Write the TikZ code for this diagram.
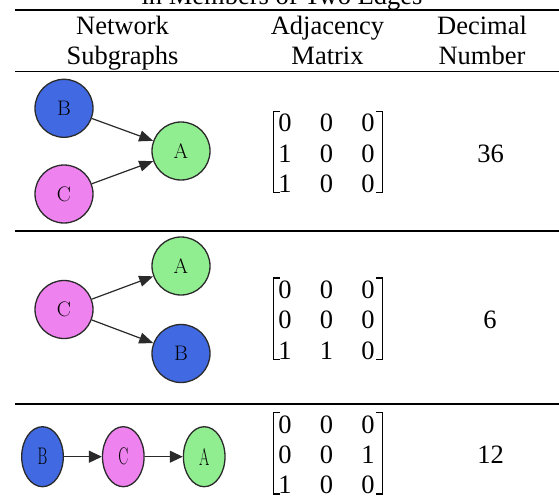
\documentclass[tikz,border=0pt]{standalone}
\usepackage{fontspec}
\usepackage{graphicx}
\newfontfamily\tnr{Liberation Serif}
\usetikzlibrary{arrows.meta,shapes.geometric}
\definecolor{nblue}{HTML}{4169E1}
\definecolor{nviolet}{HTML}{EE82EE}
\definecolor{ngreen}{HTML}{90EE90}
\definecolor{nedge}{HTML}{2A2A2A}
\newcommand\matrowx[5]{%
  \node[txt] (#1a) at (285,#2) {#3};
  \node[txt] (#1b) at (326.5,#2) {#4};
  \node[txt] (#1c) at (368,#2) {#5};}
\newcommand\bracketsx[2]{%
  \draw[brk] (280,#1) -- (273.5,#1) -- (273.5,#2) -- (280,#2);
  \draw[brk] (376,#1) -- (382.5,#1) -- (382.5,#2) -- (376,#2);}
\tikzset{
  txt/.style={font=\tnr\fontsize{26.5}{26.5}\selectfont, anchor=base, inner sep=0pt},
  rulex/.style={line width=1.6pt, black},
  thinrule/.style={line width=1.3pt, black},
  brk/.style={line width=1.4pt, black, line join=miter},
  gnode/.style={circle, draw=nedge, line width=1.3pt, minimum size=58pt, inner sep=0pt,
    font=\fontsize{21}{21}\selectfont},
  enode/.style={ellipse, draw=nedge, line width=1.3pt, minimum width=41.6pt, minimum height=60pt,
    inner sep=0pt},
  arr/.style={-{Triangle[length=14pt,width=11pt]}, line width=1.2pt, draw=nedge, fill=nedge},
}
\begin{document}
\begin{tikzpicture}[x=1pt,y=-1pt]
\useasboundingbox (0,0) rectangle (559,500);
\clip (0,0) rectangle (559,500);
% title (clipped at top, as in the reference)
\node[txt] (title) at (282,4.5) {in Members of Two Edges};
% rules
\draw[rulex] (15,10) -- (559,10);
\draw[thinrule] (15,71.5) -- (559,71.5);
\draw[rulex] (15,71.5) -- (28,71.5);
\draw[rulex] (217,71.5) -- (559,71.5);
\draw[thinrule] (15,231) -- (559,231);
\draw[rulex] (15,231) -- (28,231);
\draw[rulex] (217,231) -- (559,231);
\draw[rulex] (15,404) -- (559,404);
% header
\node[txt] (h1a) at (122.5,34.5) {Network};
\node[txt] (h1b) at (122.5,65) {Subgraphs};
\node[txt] (h2a) at (327.5,34.5) {Adjacency};
\node[txt] (h2b) at (327.5,65) {Matrix};
\node[txt] (h3a) at (482,34.5) {Decimal};
\node[txt] (h3b) at (482,65) {Number};
% row 1 graph
\node[gnode, fill=nblue] (B1) at (64,108.3) {B};
\node[gnode, fill=nviolet] (C1) at (64,194) {C};
\node[gnode, fill=ngreen] (A1) at (181,151) {A};
\draw[arr] (B1) -- (A1);
\draw[arr] (C1) -- (A1);
% row 2 graph
\node[gnode, fill=nviolet] (C2) at (64,309.5) {C};
\node[gnode, fill=ngreen] (A2) at (181,266) {A};
\node[gnode, fill=nblue] (B2) at (181,353.5) {B};
\draw[arr] (C2) -- (A2);
\draw[arr] (C2) -- (B2);
% row 3 graph
\node[enode, fill=nblue] (B3) at (42.5,456.7) {\scalebox{0.62}[1]{\fontsize{24}{24}\selectfont B}};
\node[enode, fill=nviolet] (C3) at (123.3,456.7) {\scalebox{0.62}[1]{\fontsize{24}{24}\selectfont C}};
\node[enode, fill=ngreen] (A3) at (204.2,456.7) {\scalebox{0.62}[1]{\fontsize{24}{24}\selectfont A}};
\draw[arr, -{Triangle[length=13pt,width=12pt]}] (B3) -- (C3);
\draw[arr, -{Triangle[length=13pt,width=12pt]}] (C3) -- (A3);
% matrices
\bracketsx{111.7}{192.5}
\matrowx{ma}{131.7}{0}{0}{0}
\matrowx{mb}{162.2}{1}{0}{0}
\matrowx{mc}{192.7}{1}{0}{0}
\bracketsx{278}{359.5}
\matrowx{md}{298}{0}{0}{0}
\matrowx{me}{328.5}{0}{0}{0}
\matrowx{mf}{359}{1}{1}{0}
\bracketsx{412.7}{494}
\matrowx{mg}{433.3}{0}{0}{0}
\matrowx{mh}{463.5}{0}{0}{1}
\matrowx{mi}{493.5}{1}{0}{0}
% decimal numbers
\node[txt] (n1) at (490.5,162.2) {36};
\node[txt] (n2) at (490,328.5) {6};
\node[txt] (n3) at (490.5,463.5) {12};
\end{tikzpicture}
\end{document}
